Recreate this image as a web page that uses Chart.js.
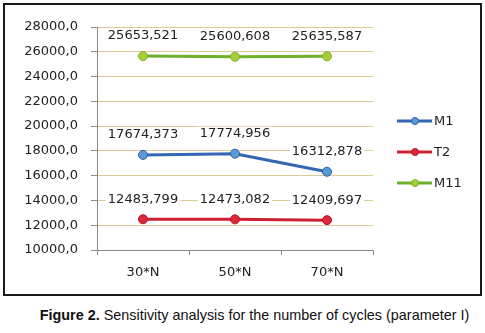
<!DOCTYPE html>
<html>
<head>
<meta charset="utf-8">
<script src="https://cdn.jsdelivr.net/npm/chart.js@4.4.0/dist/chart.umd.min.js"></script>
<style>
  html, body { margin: 0; padding: 0; background: #fff; }
  body { width: 485px; height: 333px; position: relative; overflow: hidden; }
  #frame { position: absolute; left: 3px; top: 3px; width: 479px; height: 293px; box-sizing: border-box; border: 2px solid #1a1a1a; }
  #wrap { position: absolute; left: 0; top: 0; width: 485px; height: 300px; }
  #caption { position: absolute; left: 12px; width: 485px; top: 307px; text-align: center; font: 14.4px "Liberation Sans", Arial, sans-serif; color: #111; }
</style>
</head>
<body>
<div id="frame"></div>
<div id="wrap"><canvas id="chart" width="485" height="300"></canvas></div>
<div id="caption"><b>Figure 2.</b> Sensitivity analysis for the number of cycles (parameter I)</div>
<script>
const categories = ['30*N', '50*N', '70*N'];
const seriesNames = ['M1', 'T2', 'M11'];
const m1 = [17674.373, 17774.956, 16312.878];
const t2 = [12483.799, 12473.082, 12409.697];
const m11 = [25653.521, 25600.608, 25635.587];
const yMin = 10000, yMax = 28000, yStep = 2000;

const FONT = '"DejaVu Sans", Verdana, sans-serif';
const fmtNum = (v, d) => v.toFixed(d).replace('.', ',');

const lineStyles = [
  { line: '#3366b3', fill: '#5b9bd5', edge: '#2e5ea8' },
  { line: '#cf1f32', fill: '#dc2a3c', edge: '#b81528' },
  { line: '#6cb02c', fill: '#a8cc3a', edge: '#78b02a' },
];

// value labels with white box behind them
const valueLabels = {
  id: 'valueLabels',
  afterDatasetsDraw(chart) {
    const ctx = chart.ctx;
    ctx.save();
    ctx.font = '13px ' + FONT;
    ctx.textAlign = 'center';
    ctx.textBaseline = 'middle';
    chart.data.datasets.forEach((ds, i) => {
      chart.getDatasetMeta(i).data.forEach((pt, j) => {
        const txt = fmtNum(ds.data[j], 3);
        const w = ctx.measureText(txt).width;
        const y = pt.y - 20;
        ctx.fillStyle = '#fff';
        ctx.fillRect(pt.x - w / 2 - 2, y - 7, w + 4, 14);
        ctx.fillStyle = '#222';
        ctx.fillText(txt, pt.x, y);
      });
    });
    ctx.restore();
  }
};

// legend on the right, drawn from dataset styles
const sideLegend = {
  id: 'sideLegend',
  afterDraw(chart) {
    const ctx = chart.ctx;
    ctx.save();
    ctx.font = '13px ' + FONT;
    ctx.textBaseline = 'middle';
    chart.data.datasets.forEach((ds, i) => {
      const y = 121 + i * 31;
      ctx.strokeStyle = ds.borderColor;
      ctx.lineWidth = 3;
      ctx.beginPath();
      ctx.moveTo(397, y);
      ctx.lineTo(432, y);
      ctx.stroke();
      ctx.beginPath();
      ctx.arc(415, y, 3.5, 0, Math.PI * 2);
      ctx.fillStyle = ds.pointBackgroundColor;
      ctx.fill();
      ctx.lineWidth = 1;
      ctx.strokeStyle = ds.pointBorderColor;
      ctx.stroke();
      ctx.fillStyle = '#222';
      ctx.fillText(ds.label, 434, y + 1);
    });
    ctx.restore();
  }
};

const seriesData = [m1, t2, m11];

new Chart(document.getElementById('chart'), {
  type: 'line',
  data: {
    labels: categories,
    datasets: seriesData.map((d, i) => ({
      label: seriesNames[i],
      data: d,
      borderColor: lineStyles[i].line,
      borderWidth: 3,
      pointRadius: 4.5,
      pointBackgroundColor: lineStyles[i].fill,
      pointBorderColor: lineStyles[i].edge,
      pointBorderWidth: 1,
      tension: 0,
    }))
  },
  options: {
    responsive: false,
    animation: false,
    layout: { padding: { top: 27, right: 112, left: 0, bottom: 0 } },
    plugins: { legend: { display: false }, tooltip: { enabled: false } },
    scales: {
      x: {
        offset: true,
        grid: { offset: true, drawOnChartArea: false, tickLength: 5, tickColor: '#888' },
        border: { color: '#888', width: 1 },
        ticks: { font: { family: FONT, size: 13 }, color: '#222', padding: 10 },
        afterFit: s => { s.height = 50; }
      },
      y: {
        min: yMin, max: yMax,
        grid: { color: '#dccb98', tickColor: '#888', tickLength: 6 },
        border: { color: '#888', width: 1 },
        ticks: { stepSize: yStep, font: { family: FONT, size: 13 }, color: '#222', padding: 13,
          callback: v => fmtNum(v, 1) },
        afterFit: s => { s.width = 97; }
      }
    }
  },
  plugins: [valueLabels, sideLegend]
});
</script>
</body>
</html>
